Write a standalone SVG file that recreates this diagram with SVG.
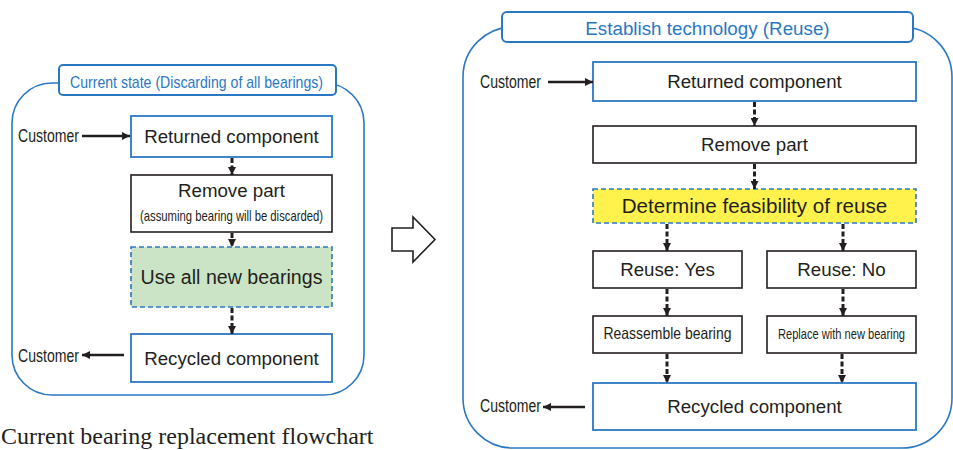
<svg xmlns="http://www.w3.org/2000/svg" width="953" height="450" viewBox="0 0 953 450">
<defs>
<marker id="ah" viewBox="0 0 8 8" refX="8" refY="4" markerWidth="8" markerHeight="8" markerUnits="userSpaceOnUse" orient="auto"><path d="M0,0 L8,4 L0,8 z" fill="#231f20"/></marker>
<style>
.panel{fill:#fff;stroke:#2b78c2;stroke-width:1.6}
.tab{fill:#fff;stroke:#2b78c2;stroke-width:2}
.bbox{fill:#fff;stroke:#2b78c2;stroke-width:1.8}
.kbox{fill:#fff;stroke:#231f20;stroke-width:1.6}
.dbox{stroke:#2b78c2;stroke-width:1.6;stroke-dasharray:5 3}
.t{font-family:"Liberation Sans",Arial,sans-serif;fill:#231f20;text-anchor:middle}
.tb{font-family:"Liberation Sans",Arial,sans-serif;fill:#2b78c2;text-anchor:middle}
.c{font-family:"Liberation Sans",Arial,sans-serif;fill:#231f20}
.dash{stroke:#231f20;stroke-width:3;stroke-dasharray:5 2.5;fill:none}
.solid{stroke:#231f20;stroke-width:2.4;fill:none}
</style>
</defs>
<rect width="953" height="450" fill="#fff"/>

<!-- Left panel -->
<g id="left-panel">
<rect class="panel" x="12" y="83" width="352" height="312" rx="40"/>
<rect class="tab" x="59" y="65" width="277" height="30" rx="4"/>
<text class="tb" x="196.5" y="88" font-size="17" textLength="253" lengthAdjust="spacingAndGlyphs">Current state (Discarding of all bearings)</text>
</g>
<g id="l-returned"><rect class="bbox" x="131" y="116" width="201" height="41"/><text class="t" x="231.5" y="143" font-size="18.7">Returned component</text></g>
<g id="l-remove"><rect class="kbox" x="131" y="175" width="201" height="57"/><text class="t" x="231.5" y="197" font-size="18.7">Remove part</text><text class="t" x="231.5" y="221" font-size="14.5" textLength="183" lengthAdjust="spacingAndGlyphs">(assuming bearing will be discarded)</text></g>
<g id="l-usenew"><rect class="dbox" fill="#cbe4c5" x="131" y="247" width="201" height="60"/><text class="t" x="231.5" y="284" font-size="19.6">Use all new bearings</text></g>
<g id="l-recycled"><rect class="bbox" x="131" y="334" width="201" height="48"/><text class="t" x="231.5" y="365" font-size="18.7">Recycled component</text></g>
<g id="l-cust-in"><text class="c" x="18" y="142" font-size="18" textLength="61" lengthAdjust="spacingAndGlyphs">Customer</text></g>
<g id="l-cust-out"><text class="c" x="18" y="362" font-size="18" textLength="61" lengthAdjust="spacingAndGlyphs">Customer</text></g>

<!-- Hollow arrow -->
<g id="transition-arrow"><path d="M392,228 H413 V217 L435,239.5 L413,262 V251 H392 Z" fill="#fff" stroke="#231f20" stroke-width="1.6" stroke-linejoin="miter"/></g>

<!-- Right panel -->
<g id="right-panel">
<rect class="panel" x="463" y="27" width="489" height="421" rx="50"/>
<rect class="tab" x="502" y="12" width="411" height="30" rx="5"/>
<text class="tb" x="707.5" y="35" font-size="18.8">Establish technology (Reuse)</text>
</g>
<g id="r-returned"><rect class="bbox" x="593" y="62" width="323" height="39"/><text class="t" x="754.5" y="88" font-size="18.7">Returned component</text></g>
<g id="r-remove"><rect class="kbox" x="593" y="126" width="323" height="37"/><text class="t" x="754.5" y="151" font-size="18.7">Remove part</text></g>
<g id="r-determine"><rect class="dbox" fill="#fff24d" x="593" y="189" width="323" height="34"/><text class="t" x="754.5" y="213" font-size="20.6">Determine feasibility of reuse</text></g>
<g id="r-yes"><rect class="kbox" x="593" y="251" width="149" height="37"/><text class="t" x="667.5" y="276" font-size="18.7">Reuse: Yes</text></g>
<g id="r-no"><rect class="kbox" x="767" y="251" width="149" height="37"/><text class="t" x="841.5" y="276" font-size="18.7">Reuse: No</text></g>
<g id="r-reassemble"><rect class="kbox" x="593" y="316" width="149" height="37"/><text class="t" x="667.5" y="339" font-size="16.5" textLength="128" lengthAdjust="spacingAndGlyphs">Reassemble bearing</text></g>
<g id="r-replace"><rect class="kbox" x="767" y="316" width="149" height="37"/><text class="t" x="841.5" y="339" font-size="15" textLength="127" lengthAdjust="spacingAndGlyphs">Replace with new bearing</text></g>
<g id="r-recycled"><rect class="bbox" x="593" y="383" width="323" height="47"/><text class="t" x="754.5" y="413" font-size="18.7">Recycled component</text></g>
<g id="r-cust-in"><text class="c" x="480" y="88" font-size="18" textLength="61" lengthAdjust="spacingAndGlyphs">Customer</text></g>
<g id="r-cust-out"><text class="c" x="480" y="412" font-size="18" textLength="61" lengthAdjust="spacingAndGlyphs">Customer</text></g>

<!-- Connectors -->
<g id="connectors">
<line class="solid" x1="82" y1="136" x2="130" y2="136" marker-end="url(#ah)"/>
<line class="solid" x1="124" y1="355" x2="82" y2="355" marker-end="url(#ah)"/>
<line class="dash" x1="232" y1="158" x2="232" y2="175" marker-end="url(#ah)"/>
<line class="dash" x1="232" y1="233" x2="232" y2="247" marker-end="url(#ah)"/>
<line class="dash" x1="232" y1="308" x2="232" y2="334" marker-end="url(#ah)"/>
<line class="solid" x1="548" y1="82" x2="593" y2="82" marker-end="url(#ah)"/>
<line class="solid" x1="585" y1="407" x2="543" y2="407" marker-end="url(#ah)"/>
<line class="dash" x1="754.5" y1="102" x2="754.5" y2="126" marker-end="url(#ah)"/>
<line class="dash" x1="754.5" y1="164" x2="754.5" y2="189" marker-end="url(#ah)"/>
<line class="dash" x1="667" y1="224" x2="667" y2="251" marker-end="url(#ah)"/>
<line class="dash" x1="843" y1="224" x2="843" y2="251" marker-end="url(#ah)"/>
<line class="dash" x1="667" y1="289" x2="667" y2="316" marker-end="url(#ah)"/>
<line class="dash" x1="843" y1="289" x2="843" y2="316" marker-end="url(#ah)"/>
<line class="dash" x1="667" y1="354" x2="667" y2="383" marker-end="url(#ah)"/>
<line class="dash" x1="842" y1="354" x2="842" y2="383" marker-end="url(#ah)"/>
</g>

<text x="1" y="444" font-family="'Liberation Serif','Times New Roman',serif" font-size="24" fill="#231f20">Current bearing replacement flowchart</text>
</svg>
